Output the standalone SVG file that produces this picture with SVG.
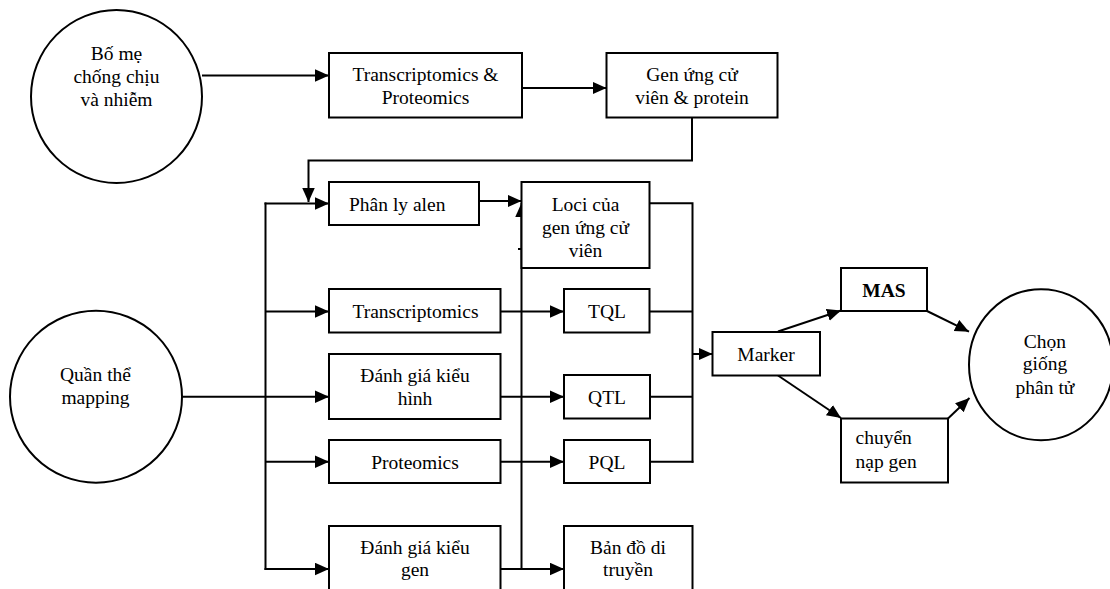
<svg xmlns="http://www.w3.org/2000/svg" width="1110" height="589" viewBox="0 0 1110 589">
<style>
.n{fill:#fff;stroke:#000;stroke-width:2}
text{font-family:'Liberation Serif','Times New Roman','DejaVu Serif',serif;font-size:19.5px;fill:#000;text-anchor:middle}
.b{font-weight:bold}
.l{text-anchor:start}
.c{fill:none;stroke:#000;stroke-width:2}
</style>
<defs>
<marker id="ah" markerUnits="userSpaceOnUse" markerWidth="15" markerHeight="14" refX="14" refY="6.25" orient="auto">
<path d="M0,0 L14,6.25 L0,12.5 z" fill="#000"/>
</marker>
</defs>
<rect x="0" y="0" width="1110" height="589" fill="#fff"/>
<g id="connectors">
<line class="c" x1="202" y1="75.5" x2="329" y2="75.5" marker-end="url(#ah)"/>
<line class="c" x1="522" y1="88" x2="606.5" y2="88" marker-end="url(#ah)"/>
<polyline class="c" points="692,117.5 692,160.5 308.5,160.5 308.5,202" marker-end="url(#ah)"/>
<line class="c" x1="265.5" y1="202.5" x2="265.5" y2="570"/>
<line class="c" x1="264.5" y1="203.5" x2="329" y2="203.5" marker-end="url(#ah)"/>
<line class="c" x1="265.5" y1="311.5" x2="329" y2="311.5" marker-end="url(#ah)"/>
<line class="c" x1="182" y1="396.7" x2="329" y2="396.7" marker-end="url(#ah)"/>
<line class="c" x1="265.5" y1="461.7" x2="329" y2="461.7" marker-end="url(#ah)"/>
<line class="c" x1="264.5" y1="569" x2="329" y2="569" marker-end="url(#ah)"/>
<line class="c" x1="479" y1="201" x2="521.5" y2="201" marker-end="url(#ah)"/>
<line class="c" x1="521.5" y1="569" x2="521.5" y2="203" marker-end="url(#ah)"/>
<line class="c" x1="518" y1="249" x2="521.5" y2="249"/>
<line class="c" x1="500.5" y1="311.5" x2="564" y2="311.5" marker-end="url(#ah)"/>
<line class="c" x1="500.5" y1="396.7" x2="564" y2="396.7" marker-end="url(#ah)"/>
<line class="c" x1="500.5" y1="461.7" x2="564" y2="461.7" marker-end="url(#ah)"/>
<line class="c" x1="500.5" y1="569" x2="564" y2="569" marker-end="url(#ah)"/>
<polyline class="c" points="649.5,203.3 692.5,203.3 692.5,462.7"/>
<line class="c" x1="649.5" y1="311.5" x2="692.5" y2="311.5"/>
<line class="c" x1="650" y1="396.7" x2="692.5" y2="396.7"/>
<line class="c" x1="650" y1="461.7" x2="693.5" y2="461.7"/>
<line class="c" x1="692.5" y1="354" x2="712.5" y2="354" marker-end="url(#ah)"/>
<line class="c" x1="778" y1="331.5" x2="841" y2="310.5" marker-end="url(#ah)"/>
<line class="c" x1="927" y1="311" x2="969" y2="331.7" marker-end="url(#ah)"/>
<line class="c" x1="778" y1="375.5" x2="841" y2="418" marker-end="url(#ah)"/>
<line class="c" x1="948" y1="418.5" x2="969.5" y2="398" marker-end="url(#ah)"/>
</g>
<g id="bo-me">
<ellipse class="n" cx="116.5" cy="96.5" rx="85.5" ry="86.5"/>
<text x="116.5" y="60">Bố mẹ</text>
<text x="116.5" y="83">chống chịu</text>
<text x="116.5" y="106">và nhiễm</text>
</g>
<g id="transcriptomics-proteomics">
<rect class="n" x="329" y="53" width="193" height="64.5"/>
<text x="425.5" y="81">Transcriptomics &amp;</text>
<text x="425.5" y="104">Proteomics</text>
</g>
<g id="gen-ung-cu-vien">
<rect class="n" x="606.5" y="53" width="171" height="64.5"/>
<text x="692" y="81">Gen ứng cử</text>
<text x="692" y="104">viên &amp; protein</text>
</g>
<g id="quan-the">
<ellipse class="n" cx="96" cy="396.7" rx="86" ry="86"/>
<text x="95.5" y="381">Quần thể</text>
<text x="95.5" y="404">mapping</text>
</g>
<g id="phan-ly-alen">
<rect class="n" x="329" y="182" width="150" height="43"/>
<text class="l" x="349" y="210.5">Phân ly alen</text>
</g>
<g id="loci">
<rect class="n" x="521.5" y="182" width="128" height="86"/>
<text x="585.5" y="211">Loci của</text>
<text x="585.5" y="234">gen ứng cử</text>
<text x="585.5" y="257">viên</text>
</g>
<g id="transcriptomics">
<rect class="n" x="329" y="289" width="171.5" height="43.5"/>
<text x="415.5" y="318">Transcriptomics</text>
</g>
<g id="tql">
<rect class="n" x="564" y="289" width="85.5" height="43.5"/>
<text x="607" y="318">TQL</text>
</g>
<g id="danh-gia-kieu-hinh">
<rect class="n" x="329" y="354" width="171.5" height="65"/>
<text x="415" y="382">Đánh giá kiểu</text>
<text x="415" y="404.5">hình</text>
</g>
<g id="qtl">
<rect class="n" x="564" y="375" width="86" height="43.5"/>
<text x="607" y="404">QTL</text>
</g>
<g id="proteomics">
<rect class="n" x="329" y="440" width="171.5" height="43"/>
<text x="415" y="468.5">Proteomics</text>
</g>
<g id="pql">
<rect class="n" x="564" y="440" width="86" height="43"/>
<text x="607" y="468.5">PQL</text>
</g>
<g id="danh-gia-kieu-gen">
<rect class="n" x="329" y="526" width="171.5" height="66"/>
<text x="415" y="553.5">Đánh giá kiểu</text>
<text x="415" y="575.5">gen</text>
</g>
<g id="ban-do-di-truyen">
<rect class="n" x="564" y="526" width="128.5" height="66"/>
<text x="628" y="553.5">Bản đồ di</text>
<text x="628" y="575.5">truyền</text>
</g>
<g id="marker">
<rect class="n" x="712.5" y="332" width="107.5" height="43.5"/>
<text x="766" y="360.5">Marker</text>
</g>
<g id="mas">
<rect class="n" x="841" y="268" width="86" height="43"/>
<text class="b" x="884" y="296.5">MAS</text>
</g>
<g id="chuyen-nap-gen">
<rect class="n" x="841" y="418.5" width="107" height="64"/>
<text class="l" x="855.5" y="444">chuyển</text>
<text class="l" x="855.5" y="467.5">nạp gen</text>
</g>
<g id="chon-giong">
<ellipse class="n" cx="1041" cy="364.7" rx="72" ry="75.5"/>
<text x="1045" y="348">Chọn</text>
<text x="1045" y="370">giống</text>
<text x="1045" y="393.5">phân tử</text>
</g>
</svg>
